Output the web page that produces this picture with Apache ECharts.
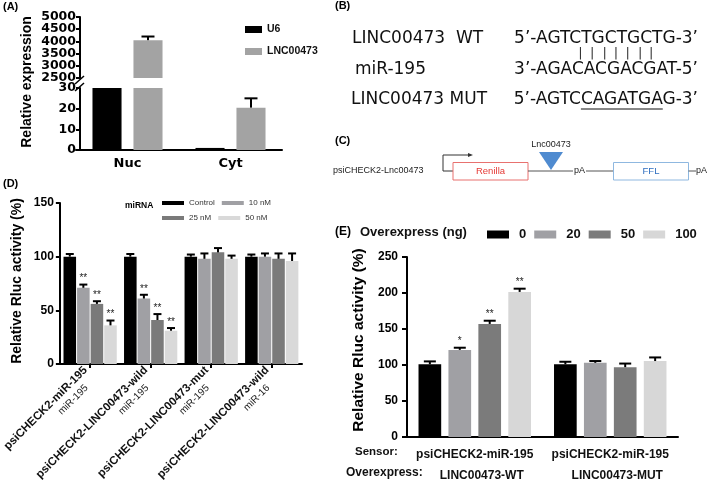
<!DOCTYPE html>
<html>
<head>
<meta charset="utf-8">
<script src="https://cdn.jsdelivr.net/npm/echarts@6/dist/echarts.min.js"></script>
<style>
  html, body { margin: 0; padding: 0; background: #fff; }
  #main { width: 709px; height: 498px; }
</style>
</head>
<body>
<div id="main"></div>
<script>
// (A) 核/质分布
const aCats = ['Nuc', 'Cyt'];
const aU6 = [30, 1];
const aLnc = [4050, 20.5];
const aLncErr = [150, 4.5];
const aTopTicksOdd = [2500, 3500, 4500];
const aTopTicksEven = [3000, 4000, 5000];

// (D) miRNA 浓度梯度
const dCats = ['psiCHECK2-miR-195', 'psiCHECK2-LINC00473-wild', 'psiCHECK2-LINC00473-mut', 'psiCHECK2-LINC00473-wild'];
const dMirs = ['miR-195', 'miR-195', 'miR-195', 'miR-16'];
const dNames = ['Control', '10 nM', '25 nM', '50 nM'];
const dControl = [100, 100, 100, 100];
const d10 = [71, 61, 98, 100];
const d25 = [56, 41, 104, 98];
const d50 = [36, 31, 98, 96];
const dControlErr = [2.5, 2.5, 2, 2];
const d10Err = [3, 3.5, 5, 3];
const d25Err = [2.5, 5.5, 4, 5];
const d50Err = [4.5, 2.5, 3, 7];
const d10Sig = ['**', '**', '', ''];
const d25Sig = ['**', '**', '', ''];
const d50Sig = ['**', '**', '', ''];

// (E) 过表达
const eSensor = ['psiCHECK2-miR-195', 'psiCHECK2-miR-195'];
const eOver = ['LINC00473-WT', 'LINC00473-MUT'];
const eNames = ['0', '20', '50', '100'];
const e0 = [101, 101];
const e20 = [121, 103];
const e50 = [157, 97];
const e100 = [201.5, 105.5];
const e0Err = [4, 3.5];
const e20Err = [3, 2.5];
const e50Err = [4.5, 5];
const e100Err = [4.5, 5];
const e20Sig = ['*', ''];
const e50Sig = ['**', ''];
const e100Sig = ['**', ''];

const FONT = "'Liberation Sans', Arial, sans-serif";
const WIDE = "'DejaVu Sans', sans-serif";
const black = { color: '#000', width: 2 };

// 误差线：按柱子布局算偏移
function errSeries(xi, values, errs, sigs, idx, n, catGap, barGap, capW, keep) {
  const data = [];
  values.forEach((v, i) => {
    if (!keep || keep(v)) data.push([i, v, errs[i]]);
  });
  return {
    type: 'custom',
    name: 'err' + xi + '-' + idx,
    xAxisIndex: xi,
    yAxisIndex: xi,
    z: 5,
    encode: { x: 0, y: 1 },
    data: data,
    renderItem(params, api) {
      const ci = api.value(0);
      const v = api.value(1);
      const e = api.value(2);
      const band = api.size([1, 0])[0];
      const total = band * (1 - catGap);
      const w = total / (n + (n - 1) * barGap);
      const off = -total / 2 + idx * w * (1 + barGap) + w / 2;
      const base = api.coord([ci, v]);
      const top = api.coord([ci, v + e]);
      const x = base[0] + off;
      const children = [
        { type: 'line', shape: { x1: x, y1: base[1], x2: x, y2: top[1] }, style: { stroke: '#000', lineWidth: 2 } },
        { type: 'line', shape: { x1: x - capW / 2, y1: top[1], x2: x + capW / 2, y2: top[1] }, style: { stroke: '#000', lineWidth: 2 } }
      ];
      const s = sigs ? sigs[ci] : '';
      if (s) {
        children.push({
          type: 'text', x: x, y: top[1] - 1,
          style: { text: s, fill: '#222', font: '10px ' + FONT, textAlign: 'center', textVerticalAlign: 'bottom' }
        });
      }
      return { type: 'group', children: children };
    }
  };
}

function bar(name, xi, data, color, catGap, barGap) {
  return {
    type: 'bar', name: name, xAxisIndex: xi, yAxisIndex: xi, data: data,
    itemStyle: { color: color },
    barCategoryGap: catGap, barGap: barGap
  };
}

// (B) 序列文字的测量
const measureCtx = document.createElement('canvas').getContext('2d');
function textW(str, font) {
  measureCtx.font = font;
  return measureCtx.measureText(str).width;
}
const SEQ_FONT = "17px 'DejaVu Sans'";
const bWt = '5’-AGTCTGCTGCTG-3’';
const bMir = '3’-AGACACGACGAT-5’';
const bMut = '5’-AGTCCAGATGAG-3’';
const seqRight = 698;
const wtStart = seqRight - textW(bWt, SEQ_FONT);
const mutStart = seqRight - textW(bMut, SEQ_FONT);
const ulX1 = mutStart + textW('5’-AGTC', SEQ_FONT);
const ulX2 = ulX1 + textW('CAGATGA', SEQ_FONT);

const pairBars = [];
for (let i = 7; i <= 13; i++) {
  const cx = wtStart + textW(bWt.slice(0, i), SEQ_FONT) + textW(bWt[i], SEQ_FONT) / 2 - 6;
  pairBars.push({ type: 'text', x: cx, y: 54, style: { text: '|', font: "13px 'DejaVu Sans'", fill: '#333', textAlign: 'center', textVerticalAlign: 'middle' } });
}

function label(text, x, y, font, extra, rot) {
  return {
    type: 'text', x: x, y: y, rotation: rot || 0,
    style: Object.assign({ text: text, font: font, fill: '#000', textVerticalAlign: 'middle' }, extra || {})
  };
}

const graphics = [
  // panel tags
  label('(A)', 3, 7, 'bold 11px ' + FONT),
  label('(B)', 335, 6, 'bold 11px ' + FONT),
  label('(C)', 335, 141, 'bold 11px ' + FONT),
  label('(D)', 3, 184, 'bold 11px ' + FONT),
  label('(E)', 335, 232, 'bold 12px ' + FONT),
  // y titles
  label('Relative expression', 27, 82, 'bold 14px ' + FONT, { textAlign: 'center' }, Math.PI / 2),
  label('Relative Rluc activity (%)', 17, 281, 'bold 14px ' + FONT, { textAlign: 'center' }, Math.PI / 2),
  label('Relative Rluc activity (%)', 359, 340, 'bold 15.5px ' + FONT, { textAlign: 'center' }, Math.PI / 2),
  // (A) 断轴
  { type: 'line', shape: { x1: 75, y1: 84, x2: 84, y2: 76 }, style: { stroke: '#000', lineWidth: 1.5 } },
  { type: 'line', shape: { x1: 75, y1: 91, x2: 84, y2: 83 }, style: { stroke: '#000', lineWidth: 1.5 } },
  // (B)
  label('LINC00473  WT', 352, 39, SEQ_FONT, { fill: '#111' }),
  label(bWt, seqRight, 39, SEQ_FONT, { fill: '#111', textAlign: 'right' }),
  label('miR-195', 355, 70, SEQ_FONT, { fill: '#111' }),
  label(bMir, seqRight, 70, SEQ_FONT, { fill: '#111', textAlign: 'right' }),
  label('LINC00473 MUT', 351, 100, SEQ_FONT, { fill: '#111' }),
  label(bMut, seqRight, 100, SEQ_FONT, { fill: '#111', textAlign: 'right' }),
  { type: 'line', shape: { x1: ulX1, y1: 109, x2: ulX2, y2: 109 }, style: { stroke: '#111', lineWidth: 1 } },
  // (C) 载体示意
  label('psiCHECK2-Lnc00473', 333, 171, '9px ' + FONT, { fill: '#222' }),
  { type: 'polyline', shape: { points: [[453, 171], [443, 171], [443, 155], [470, 155]] }, style: { stroke: '#333', lineWidth: 1, fill: null } },
  { type: 'polygon', shape: { points: [[468, 153], [473, 155], [468, 157]] }, style: { fill: '#333' } },
  { type: 'rect', shape: { x: 453, y: 162.5, width: 75, height: 17.5 }, style: { stroke: '#e8716f', fill: '#fff', lineWidth: 1 } },
  label('Renilla', 490.5, 171, '9.5px ' + FONT, { fill: '#e53935', textAlign: 'center' }),
  { type: 'line', shape: { x1: 528, y1: 171, x2: 573, y2: 171 }, style: { stroke: '#555', lineWidth: 1 } },
  { type: 'polygon', shape: { points: [[539, 152], [563, 152], [551, 170]] }, style: { fill: '#4f8bd0' } },
  label('Lnc00473', 551, 145, '9px ' + FONT, { fill: '#222', textAlign: 'center' }),
  label('pA', 574, 171, '9px ' + FONT, { fill: '#222' }),
  { type: 'line', shape: { x1: 586, y1: 171, x2: 613.5, y2: 171 }, style: { stroke: '#555', lineWidth: 1 } },
  { type: 'rect', shape: { x: 613.5, y: 162.5, width: 75, height: 17.5 }, style: { stroke: '#8fb8e0', fill: '#fff', lineWidth: 1 } },
  label('FFL', 651, 171, '9.5px ' + FONT, { fill: '#2f6fc0', textAlign: 'center' }),
  { type: 'line', shape: { x1: 688.5, y1: 171, x2: 696, y2: 171 }, style: { stroke: '#555', lineWidth: 1 } },
  label('pA', 696, 171, '9px ' + FONT, { fill: '#222' }),
  // (D) / (E) 附加文字
  label('miRNA', 125, 206, 'bold 8.5px ' + FONT),
  label('Overexpress (ng)', 360, 232, 'bold 13px ' + FONT, { fill: '#111' }),
  label('Sensor:', 355, 452, 'bold 11.5px ' + FONT, { fill: '#111' }),
  label('Overexpress:', 346, 473, 'bold 12px ' + FONT, { fill: '#111' })
].concat(pairBars);

// 一个图表实例，多个 grid
const chart = echarts.init(document.getElementById('main'));

// 断轴刻度字较挤：上半段拆成两根轴各显示一半刻度
function aLabel(keepList) {
  return {
    margin: 4, showMinLabel: true, showMaxLabel: true, hideOverlap: false,
    formatter: v => (keepList ? (keepList.indexOf(v) >= 0 ? '{t|' + v + '}' : '') : '{t|' + v + '}'),
    rich: { t: { fontFamily: WIDE, fontWeight: 'bold', fontSize: 12.5, lineHeight: 8, color: '#000' } }
  };
}
const yLabel = { fontFamily: FONT, fontWeight: 'bold', fontSize: 12, color: '#000' };

const option = {
  animation: false,
  backgroundColor: '#fff',
  grid: [
    { left: 76, top: 17, width: 206, height: 61 },
    { left: 76, top: 88, width: 206, height: 62 },
    { left: 57, top: 203, width: 245, height: 161 },
    { left: 407, top: 257, width: 271, height: 180 }
  ],
  legend: [
    {
      data: ['U6', 'LNC00473'], orient: 'vertical', left: 240, top: 19,
      itemWidth: 17, itemHeight: 7, itemGap: 11, icon: 'rect',
      textStyle: { fontFamily: FONT, fontWeight: 'bold', fontSize: 10.5, color: '#111' }
    },
    {
      data: dNames, left: 157, top: 194, width: 110, orient: 'horizontal',
      itemWidth: 22, itemHeight: 4, itemGap: 7, icon: 'rect',
      textStyle: { fontFamily: FONT, fontSize: 8, color: '#333' }
    },
    {
      data: eNames, left: 487, top: 228, width: 222, orient: 'horizontal',
      itemWidth: 22, itemHeight: 8, itemGap: 8, icon: 'rect', padding: 0,
      textStyle: { fontFamily: FONT, fontWeight: 'bold', fontSize: 13, color: '#111', padding: [0, 0, 0, 5] }
    }
  ],
  xAxis: [
    { gridIndex: 0, type: 'category', data: aCats, show: false },
    {
      gridIndex: 1, type: 'category', data: aCats,
      axisLine: { lineStyle: black }, axisTick: { show: false },
      axisLabel: { fontFamily: WIDE, fontWeight: 'bold', fontSize: 13, color: '#000', margin: 7 }
    },
    {
      gridIndex: 2, type: 'category', data: dCats,
      axisLine: { lineStyle: black },
      axisTick: { show: true, alignWithLabel: true, length: 4, lineStyle: black },
      axisLabel: {
        interval: 0, rotate: 45, margin: 9, verticalAlign: 'middle',
        formatter: (v, i) => '{a|' + dCats[i] + '}\n{b|' + dMirs[i] + '}',
        rich: {
          a: { fontFamily: FONT, fontWeight: 'bold', fontSize: 11.5, color: '#111', lineHeight: 14, align: 'right' },
          b: { fontFamily: FONT, fontSize: 10, color: '#222', lineHeight: 13, align: 'right', padding: [0, 12, 0, 0] }
        }
      }
    },
    {
      gridIndex: 3, type: 'category', data: eSensor,
      axisLine: { lineStyle: black }, axisTick: { show: false },
      axisLabel: {
        interval: 0, margin: 7,
        formatter: (v, i) => '{a|' + eSensor[i] + '}\n{b|' + eOver[i] + '}',
        rich: {
          a: { fontFamily: FONT, fontWeight: 'bold', fontSize: 12, color: '#111', lineHeight: 21, align: 'center' },
          b: { fontFamily: FONT, fontWeight: 'bold', fontSize: 12, color: '#111', lineHeight: 21, align: 'center', padding: [0, 0, 0, 14] }
        }
      }
    }
  ],
  yAxis: [
    {
      gridIndex: 0, type: 'value', position: 'left', min: 2500, max: 5000, interval: 500, offset: -4,
      axisLine: { show: true, lineStyle: black }, axisTick: { show: true, length: 4, lineStyle: black },
      splitLine: { show: false }, axisLabel: aLabel(aTopTicksOdd)
    },
    {
      gridIndex: 1, type: 'value', position: 'left', min: 0, max: 30, interval: 10, offset: -4,
      axisLine: { show: true, lineStyle: black }, axisTick: { show: true, length: 4, lineStyle: black },
      splitLine: { show: false }, axisLabel: aLabel(null)
    },
    {
      gridIndex: 2, type: 'value', min: 0, max: 150, interval: 50,
      axisLine: { show: true, lineStyle: black }, axisTick: { show: true, length: 4, lineStyle: black },
      splitLine: { show: false }, axisLabel: Object.assign({ margin: 6 }, yLabel)
    },
    {
      gridIndex: 3, type: 'value', min: 0, max: 250, interval: 50,
      axisLine: { show: true, lineStyle: black }, axisTick: { show: true, length: 5, lineStyle: black },
      splitLine: { show: false }, axisLabel: Object.assign({ margin: 9 }, yLabel)
    },
    {
      gridIndex: 0, type: 'value', position: 'left', min: 2500, max: 5000, interval: 500, offset: -4,
      axisLine: { show: false }, axisTick: { show: false },
      splitLine: { show: false }, axisLabel: aLabel(aTopTicksEven)
    }
  ],
  graphic: graphics,
  series: [
    // (A) 上半段
    bar('U6', 0, aU6, '#000', '32%', '41%'),
    bar('LNC00473', 0, aLnc, '#a3a3a3', '32%', '41%'),
    errSeries(0, aLnc, aLncErr, null, 1, 2, 0.32, 0.41, 13, v => v > 2500),
    // (A) 下半段
    bar('U6', 1, aU6, '#000', '32%', '41%'),
    bar('LNC00473', 1, aLnc, '#a3a3a3', '32%', '41%'),
    errSeries(1, aLnc, aLncErr, null, 1, 2, 0.32, 0.41, 13, v => v <= 30),
    // (D)
    bar('Control', 2, dControl, '#000', '12%', '8%'),
    bar('10 nM', 2, d10, '#a0a0a4', '12%', '8%'),
    bar('25 nM', 2, d25, '#7a7a7a', '12%', '8%'),
    bar('50 nM', 2, d50, '#d9d9d9', '12%', '8%'),
    errSeries(2, dControl, dControlErr, null, 0, 4, 0.12, 0.08, 8),
    errSeries(2, d10, d10Err, d10Sig, 1, 4, 0.12, 0.08, 8),
    errSeries(2, d25, d25Err, d25Sig, 2, 4, 0.12, 0.08, 8),
    errSeries(2, d50, d50Err, d50Sig, 3, 4, 0.12, 0.08, 8),
    // (E)
    bar('0', 3, e0, '#000', '17%', '32%'),
    bar('20', 3, e20, '#a0a0a4', '17%', '32%'),
    bar('50', 3, e50, '#7b7b7b', '17%', '32%'),
    bar('100', 3, e100, '#d7d7d7', '17%', '32%'),
    errSeries(3, e0, e0Err, null, 0, 4, 0.17, 0.32, 12),
    errSeries(3, e20, e20Err, e20Sig, 1, 4, 0.17, 0.32, 12),
    errSeries(3, e50, e50Err, e50Sig, 2, 4, 0.17, 0.32, 12),
    errSeries(3, e100, e100Err, e100Sig, 3, 4, 0.17, 0.32, 12)
  ]
};

chart.setOption(option);
</script>
</body>
</html>
